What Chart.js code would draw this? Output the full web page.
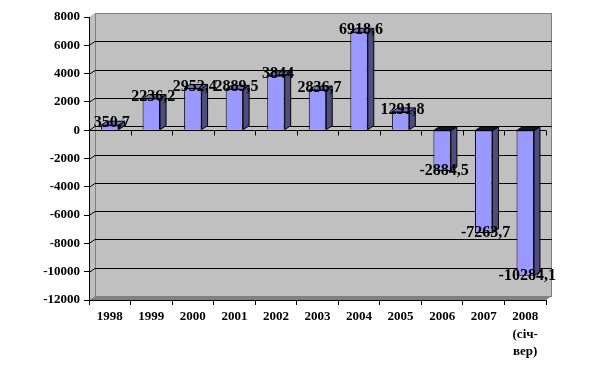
<!DOCTYPE html>
<html lang="uk">
<head>
  <meta charset="UTF-8" />
  <title>Сальдо</title>
  <script src="https://cdn.jsdelivr.net/npm/chart.js"></script>
  <style>
    * { margin: 0; padding: 0; box-sizing: border-box; }
    body { background: #fff; width: 592px; height: 369px; overflow: hidden; }
    canvas { display: block; }
  </style>
</head>
<body>
<canvas id="chart" width="592" height="369"></canvas>
<script>
  const years = ['1998', '1999', '2000', '2001', '2002', '2003', '2004', '2005', '2006', '2007', ['2008', '(січ-', 'вер)']];
  const values = [350.7, 2236.2, 2952.4, 2889.5, 3844, 2836.7, 6918.6, 1291.8, -2884.5, -7263.7, -10284.1];
  const yTicks = { min: -12000, max: 8000, step: 2000 };

  const FONT = '"Liberation Serif", "Times New Roman", serif';
  const DX = 6, DY = 4;

  // back wall, side wall, floor and gridlines (Excel style 3D)
  const walls = {
    id: 'walls',
    beforeDraw(chart) {
      const { ctx, chartArea: a } = chart;
      const y = chart.scales.y;
      ctx.save();
      ctx.fillStyle = '#c0c0c0';
      ctx.fillRect(a.left + DX, a.top - DY, a.right - a.left, a.bottom - a.top);
      ctx.beginPath();
      ctx.moveTo(a.left, a.top);
      ctx.lineTo(a.left + DX, a.top - DY);
      ctx.lineTo(a.left + DX, a.bottom - DY);
      ctx.lineTo(a.left, a.bottom);
      ctx.closePath();
      ctx.fill();
      // floor
      ctx.fillStyle = '#808080';
      ctx.beginPath();
      ctx.moveTo(a.left, a.bottom);
      ctx.lineTo(a.right, a.bottom);
      ctx.lineTo(a.right + DX, a.bottom - DY);
      ctx.lineTo(a.left + DX, a.bottom - DY);
      ctx.closePath();
      ctx.fill();
      // wall edges
      ctx.strokeStyle = '#808080';
      ctx.lineWidth = 1;
      ctx.strokeRect(a.left + DX + 0.5, a.top - DY + 0.5, a.right - a.left - 1, a.bottom - a.top);
      // gridlines
      ctx.strokeStyle = '#000';
      for (let v = yTicks.min + yTicks.step; v < yTicks.max; v += yTicks.step) {
        const py = Math.round(y.getPixelForValue(v)) + 0.5;
        ctx.beginPath();
        ctx.moveTo(a.left, py);
        ctx.lineTo(a.left + DX, py - DY);
        ctx.lineTo(a.right + DX, py - DY);
        ctx.stroke();
      }
      // category axis at zero with ticks
      const zy = Math.round(y.getPixelForValue(0)) + 0.5;
      ctx.beginPath();
      ctx.moveTo(a.left, zy);
      ctx.lineTo(a.right, zy);
      const n = years.length;
      for (let i = 1; i <= n; i++) {
        const px = Math.round(a.left + (a.right - a.left) * i / n) + 0.5;
        ctx.moveTo(px, zy);
        ctx.lineTo(px, zy + 5);
      }
      ctx.stroke();
      ctx.restore();
    }
  };

  // side and top faces of the bars, then value labels
  const bars3d = {
    id: 'bars3d',
    afterDatasetsDraw(chart) {
      const { ctx } = chart;
      const meta = chart.getDatasetMeta(0);
      ctx.save();
      ctx.strokeStyle = '#000';
      ctx.lineWidth = 1;
      meta.data.forEach((bar, i) => {
        const l = bar.x - bar.width / 2, r = bar.x + bar.width / 2;
        const top = Math.min(bar.y, bar.base), bot = Math.max(bar.y, bar.base);
        ctx.fillStyle = '#4d4d80';
        ctx.beginPath();
        ctx.moveTo(r, top);
        ctx.lineTo(r + DX, top - DY);
        ctx.lineTo(r + DX, bot - DY);
        ctx.lineTo(r, bot);
        ctx.closePath();
        ctx.fill();
        ctx.stroke();
        ctx.fillStyle = values[i] >= 0 ? '#7373bf' : '#141428';
        ctx.beginPath();
        ctx.moveTo(l, top);
        ctx.lineTo(l + DX, top - DY);
        ctx.lineTo(r + DX, top - DY);
        ctx.lineTo(r, top);
        ctx.closePath();
        ctx.fill();
        ctx.stroke();
      });
      ctx.fillStyle = '#000';
      ctx.font = 'bold 16px ' + FONT;
      ctx.textAlign = 'center';
      ctx.textBaseline = 'middle';
      meta.data.forEach((bar, i) => {
        const txt = String(values[i]).replace('.', ',');
        const off = values[i] >= 0 ? -2 : 0;
        ctx.fillText(txt, bar.x + 2, bar.y + off);
      });
      ctx.restore();
    }
  };

  new Chart(document.getElementById('chart'), {
    type: 'bar',
    data: {
      labels: years,
      datasets: [{
        data: values,
        backgroundColor: '#9999ff',
        borderColor: '#000',
        borderWidth: 1,
        categoryPercentage: 1,
        barPercentage: 0.42
      }]
    },
    options: {
      responsive: false,
      animation: false,
      events: [],
      layout: { padding: { top: 17, right: 46, left: 0, bottom: 0 } },
      plugins: { legend: { display: false }, tooltip: { enabled: false } },
      scales: {
        x: {
          afterFit(s) { s.height = 69; },
          grid: { offset: true, drawOnChartArea: false, tickLength: 5, color: '#000' },
          border: { color: '#000' },
          ticks: {
            color: '#000',
            padding: 3,
            maxRotation: 0,
            autoSkip: false,
            font: { family: FONT, size: 13, weight: 'bold', lineHeight: 1.35 }
          }
        },
        y: {
          min: yTicks.min,
          max: yTicks.max,
          afterFit(s) { s.width = 89; },
          grid: { drawOnChartArea: false, tickLength: 5, color: '#000' },
          border: { color: '#000' },
          ticks: {
            stepSize: yTicks.step,
            color: '#000',
            padding: 4,
            font: { family: FONT, size: 13, weight: 'bold' },
            callback: v => String(v)
          }
        }
      }
    },
    plugins: [walls, bars3d]
  });
</script>
</body>
</html>
